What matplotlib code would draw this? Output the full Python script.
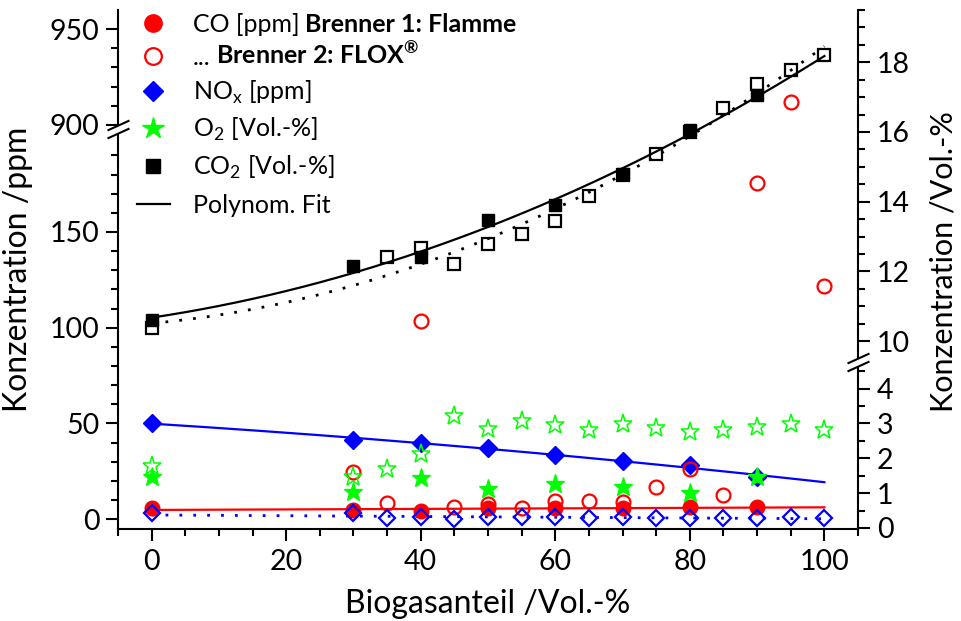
import numpy as np
import matplotlib
matplotlib.use("Agg")
import matplotlib.pyplot as plt
from matplotlib.path import Path

plt.rcParams['font.family'] = ['Lato', 'DejaVu Sans']

# Brenner 1 (Flamme)
x_b1 = [0, 30, 40, 50, 60, 70, 80, 90]
co_b1 = [5.6, 4.7, 4.2, 5.6, 5.6, 5.6, 6.1, 6.4]          # ppm
nox_b1 = [50.2, 41.5, 39.7, 37.1, 33.3, 30.4, 28.1, 22.0]  # ppm
o2_b1 = [1.47, 1.04, 1.42, 1.11, 1.26, 1.18, 1.01, 1.45]   # Vol.-%
co2_b1 = [10.62, 12.15, 12.42, 13.48, 13.90, 14.79, 16.05, 17.05]

# Brenner 2 (FLOX)
x_b2 = [0, 30, 35, 40, 45, 50, 55, 60, 65, 70, 75, 80, 85, 90, 95, 100]
nox_b2 = [3.0, 3.0, 0.4, 0.9, 0.0, 0.9, 0.9, 0.9, 0.5, 0.9, 0.5, 0.5, 0.5, 0.5, 0.9, 0.5]
o2_b2 = [1.77, 1.47, 1.68, 2.13, 3.20, 2.85, 3.07, 2.94, 2.82, 2.99, 2.88, 2.75, 2.82, 2.89, 2.97, 2.82]
x_co_b2 = [30, 35, 40, 45, 50, 55, 60, 65, 70, 75, 80, 85, 90, 95, 100]
co_b2 = [24.6, 8.5, 103.3, 6.1, 7.8, 5.9, 9.5, 9.5, 9.0, 16.8, 25.9, 12.5, 175.7, 912.1, 121.9]
x_co2_b2 = [0, 35, 40, 45, 50, 55, 60, 65, 70, 75, 80, 85, 90, 95, 100]
co2_b2 = [10.38, 12.42, 12.66, 12.20, 12.80, 13.07, 13.44, 14.15, 14.76, 15.36, 15.99, 16.70, 17.38, 17.77, 18.22]

legend_labels = ['CO [ppm]', '...', r'NO$_\mathregular{x}$ [ppm]',
                 r'O$_\mathregular{2}$ [Vol.-%]', r'CO$_\mathregular{2}$ [Vol.-%]',
                 'Polynom. Fit']
legend_bold = ['Brenner 1: Flamme', r'Brenner 2: FLOX$^{\mathregular{®}}$']


def broken(lo_end, hi_start):
    # collapse the range between lo_end and hi_start (axis break)
    gap = hi_start - lo_end

    def fwd(v):
        v = np.asarray(v, dtype=float)
        return np.where(v <= lo_end, v, np.where(v >= hi_start, v - gap, lo_end))

    def inv(t):
        t = np.asarray(t, dtype=float)
        return np.where(t <= lo_end, t, t + gap)
    return fwd, inv


def fit(xs, ys, deg, xf):
    return np.polyval(np.polyfit(xs, ys, deg), xf)


W, H = 961, 621
fig = plt.figure(figsize=(W / 100, H / 100), dpi=100)
ax = fig.add_axes([118 / W, 92 / H, 740 / W, 519 / H])
ax2 = ax.twinx()

L_BRK = (204, 898)
R_BRK = (4.76, 9.4)
ax.set_yscale('function', functions=broken(*L_BRK))
ax2.set_yscale('function', functions=broken(*R_BRK))

xf = np.linspace(0, 100, 200)
lw = 1.6

# ppm side: CO and NOx
ax.plot(xf, fit(x_b1, nox_b1, 2, xf), color='blue', lw=lw, zorder=2)
ax.plot(xf, fit(x_b2, nox_b2, 1, xf), color='blue', lw=2, ls=(0, (1, 4)), zorder=2)
ax.plot(xf, fit(x_b1, co_b1, 1, xf), color='red', lw=lw, zorder=2)
ax.plot(x_b1, nox_b1, 'D', color='blue', ms=9, zorder=3)
ax.plot(x_b1, co_b1, 'o', color='red', ms=10.5, zorder=4)
ax.plot(x_co_b2, co_b2, 'o', mfc='none', mec='red', mew=1.6, ms=10, zorder=5)
ax.plot(x_b2, nox_b2, 'D', mfc='none', mec='blue', mew=1.6, ms=8.5, zorder=6)

# Vol.-% side: O2 and CO2
ax2.plot(xf, fit(x_b1, co2_b1, 2, xf), color='black', lw=lw, zorder=2)
ax2.plot(xf, fit(x_co2_b2, co2_b2, 2, xf), color='black', lw=2, ls=(0, (1, 4)), zorder=2)
ax2.plot(x_co2_b2, co2_b2, 's', mfc='none', mec='black', mew=1.6, ms=8.5, zorder=3)
ax2.plot(x_b1, co2_b1, 's', color='black', ms=9, zorder=4)
ax2.plot(x_b2, o2_b2, '*', mfc='none', mec='#00ff00', mew=1.1, ms=14, zorder=5)
ax2.plot(x_b1, o2_b1, '*', color='#00ff00', ms=14, zorder=6)

# axes, limits, ticks
ax.set_xlim(-5, 105)
ax.set_ylim(-5.2, 960)
ax2.set_ylim(-0.03, 19.5)

ax.set_xticks(range(0, 101, 20))
ax.set_xticks(range(-5, 106, 5), minor=True)
ax.set_yticks([0, 50, 100, 150, 900, 950])
ax.set_yticks([v for v in range(10, 200, 10) if v % 50] + [910, 920, 930, 940], minor=True)
ax2.set_yticks([0, 1, 2, 3, 4, 10, 12, 14, 16, 18])
ax2.set_yticks([0.5, 1.5, 2.5, 3.5, 4.5] + [v for v in np.arange(10.5, 19.6, 0.5) if v % 2], minor=True)

for a in (ax, ax2):
    a.tick_params(which='major', direction='out', length=8.5, width=1.5, labelsize=20.5, pad=5)
    a.tick_params(which='minor', direction='out', length=5, width=1.5)
    a.spines['top'].set_visible(False)
    for s in a.spines.values():
        s.set_linewidth(1.5)
ax.tick_params(axis='x', which='major', pad=6)
ax.spines['right'].set_visible(False)
ax2.spines['left'].set_visible(False)
ax2.spines['bottom'].set_visible(False)

ax.set_xlabel('Biogasanteil /Vol.-%', fontsize=23)
ax.xaxis.set_label_coords(0.5, -0.115)
ax.set_ylabel('Konzentration /ppm', fontsize=23)
ax.yaxis.set_label_coords(-0.115, 0.5)
ax2.set_ylabel('Konzentration /Vol.-%', fontsize=22)
ax2.yaxis.set_label_coords(1.097, 0.516)

# axis break marks "//"
gap_shape = Path([(-11, -9), (11, 1), (11, 9), (-11, -1), (-11, -9)])
slash_shape = Path([(-11, -9), (11, 1), (-11, -1), (11, 9)],
                   [Path.MOVETO, Path.LINETO, Path.MOVETO, Path.LINETO])
for a, xa, yv in ((ax, 0, L_BRK[0]), (ax2, 1, R_BRK[0])):
    tr = a.get_yaxis_transform()
    a.plot([xa], [yv], marker=gap_shape, ms=15.8, mfc='white', mec='none',
           transform=tr, clip_on=False, zorder=10)
    a.plot([xa], [yv], marker=slash_shape, ms=15.8, mfc='none', mec='black', mew=1.5,
           transform=tr, clip_on=False, zorder=11)

# legend, drawn row by row (figure pixels from the top-left corner)
leg_fs = 18
row_base = [32, 65, 100, 137, 175, 213]   # text baselines
mark_x, text_x = 153, 193
handle_styles = [
    dict(marker='o', color='red', ms=12.5),
    dict(marker='o', mfc='none', mec='red', mew=1.6, ms=12),
    dict(marker='D', color='blue', ms=10),
    dict(marker='*', color='#00ff00', ms=16),
    dict(marker='s', color='black', ms=10),
]


def fig_xy(px, py):
    return px / W, 1 - py / H


for i, (label, yb) in enumerate(zip(legend_labels, row_base)):
    ym = yb - 9
    if i < len(handle_styles):
        fig.add_artist(plt.Line2D(*zip(fig_xy(mark_x, ym)), ls='none',
                                  transform=fig.transFigure, **handle_styles[i]))
    else:
        fig.add_artist(plt.Line2D(*zip(fig_xy(137, ym), fig_xy(170, ym)), color='black',
                                  lw=lw, transform=fig.transFigure))
    t = fig.text(*fig_xy(text_x, yb), label, fontsize=leg_fs, va='baseline', ha='left')
    if i < len(legend_bold):
        # bold part continues right after the plain text
        ax.annotate(legend_bold[i], xy=(1, 0), xycoords=t, xytext=(4, 0),
                    textcoords='offset points', ha='left', va='bottom',
                    fontsize=leg_fs, fontweight='bold', zorder=12)

fig.savefig('out.png', dpi=100)
